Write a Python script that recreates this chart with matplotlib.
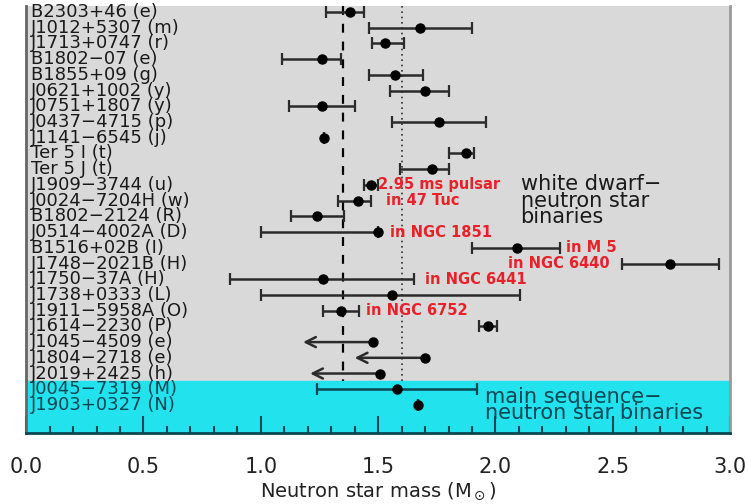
import numpy as np
import matplotlib
matplotlib.use('Agg')
import matplotlib.pyplot as plt
from matplotlib.ticker import MultipleLocator

# pulsar names, top to bottom
names = ['B2303+46 (e)', 'J1012+5307 (m)', 'J1713+0747 (r)', 'B1802-07 (e)',
         'B1855+09 (g)', 'J0621+1002 (y)', 'J0751+1807 (y)', 'J0437-4715 (p)',
         'J1141-6545 (j)', 'Ter 5 I (t)', 'Ter 5 J (t)', 'J1909-3744 (u)',
         'J0024-7204H (w)', 'B1802-2124 (R)', 'J0514-4002A (D)', 'B1516+02B (I)',
         'J1748-2021B (H)', 'J1750-37A (H)', 'J1738+0333 (L)', 'J1911-5958A (O)',
         'J1614-2230 (P)', 'J1045-4509 (e)', 'J1804-2718 (e)', 'J2019+2425 (h)',
         'J0045-7319 (M)', 'J1903+0327 (N)']

# measured masses with lower / upper bounds (white dwarf binaries)
wd_mass = [1.38, 1.68, 1.53, 1.26, 1.57, 1.70, 1.26, 1.76, 1.27, 1.875, 1.73,
           1.47, 1.415, 1.24, 1.50, 2.09, 2.745, 1.265, 1.56, 1.34, 1.97]
wd_low = [1.28, 1.46, 1.475, 1.09, 1.46, 1.55, 1.12, 1.56, 1.27, 1.80, 1.595,
          1.44, 1.33, 1.13, 1.00, 1.90, 2.54, 0.87, 1.00, 1.265, 1.93]
wd_high = [1.44, 1.90, 1.61, 1.34, 1.69, 1.80, 1.40, 1.96, 1.27, 1.91, 1.80,
           1.50, 1.47, 1.355, 1.50, 2.275, 2.955, 1.655, 2.105, 1.42, 2.005]

# upper limits (rows 22-24)
lim_mass = [1.48, 1.70, 1.51]
lim_arrow = [1.18, 1.40, 1.21]

# main sequence binaries
ms_mass = [1.58, 1.67]
ms_low = [1.24, 1.67]
ms_high = [1.92, 1.67]

# red cluster notes: (text, x, row)
notes = [('2.95 ms pulsar', 1.50, 11), ('in 47 Tuc', 1.535, 12),
         ('in NGC 1851', 1.55, 14), ('in M 5', 2.30, 15),
         ('in NGC 6440', 2.055, 16), ('in NGC 6441', 1.70, 17),
         ('in NGC 6752', 1.45, 19)]

canonical = 1.35
mean_mass = 1.6

gray_bg = '#d9d9d9'
cyan_bg = '#22e2ee'
teal = '#0b4652'
red = '#e8202a'

fig = plt.figure(figsize=(7.48, 5.04), dpi=100)
ax = fig.add_axes([0.035, 0.141, 0.941, 0.847])
ax.set_facecolor(gray_bg)

n = len(names)
rows = np.arange(n)
n_wd = len(wd_mass)
n_lim = len(lim_mass)

ax.set_xlim(0, 3.0)
ax.set_ylim(26.78, -0.38)
ax.axhspan(n_wd + n_lim - 0.5, 26.78, color=cyan_bg, zorder=0.5)

ax.vlines(canonical, -0.38, n_wd + n_lim - 0.5, colors='black',
          linestyles=(0, (4, 4)), linewidth=1.6, zorder=1)
ax.vlines(mean_mass, -0.38, n_wd + n_lim - 0.5, colors='#333333',
          linestyles=(0, (1, 2.2)), linewidth=1.2, zorder=1)

wd_y = rows[:n_wd]
m = np.array(wd_mass)
err = [m - np.array(wd_low), np.array(wd_high) - m]
ax.errorbar(m, wd_y, xerr=err, fmt='o', color='black', ecolor='#2b2b2b',
            elinewidth=1.8, capsize=4, capthick=1.6, markersize=6.5, zorder=3)

lim_y = rows[n_wd:n_wd + n_lim]
ax.plot(lim_mass, lim_y, 'o', color='black', markersize=6.5, zorder=3)
for xm, xa, yy in zip(lim_mass, lim_arrow, lim_y):
    ax.annotate('', xy=(xa, yy), xytext=(xm, yy),
                arrowprops=dict(arrowstyle='->', color='#2b2b2b', lw=1.8,
                                mutation_scale=18, shrinkA=0, shrinkB=0),
                zorder=2)

ms_y = rows[n_wd + n_lim:]
mm = np.array(ms_mass)
merr = [mm - np.array(ms_low), np.array(ms_high) - mm]
ax.errorbar(mm, ms_y, xerr=merr, fmt='o', color='black', ecolor=teal,
            elinewidth=1.8, capsize=4, capthick=1.6, markersize=6.5, zorder=3)

for i, name in enumerate(names):
    c = teal if i >= n_wd + n_lim else '#1a1a1a'
    ax.text(0.02, i, name.replace('-', '\u2212'), ha='left', va='center',
            fontsize=13, color=c, zorder=4)

for txt, xx, rr in notes:
    ax.text(xx, rr, txt, ha='left', va='center', fontsize=10.5,
            fontweight='bold', color=red, zorder=4)

ax.text(2.107, 12, 'white dwarf\u2212\nneutron star\nbinaries', ha='left',
        va='center', fontsize=15, color='#1a1a1a', linespacing=0.8, zorder=4)
ax.text(1.955, 25, 'main sequence\u2212\nneutron star binaries', ha='left',
        va='center', fontsize=15, color=teal, linespacing=0.75, zorder=4)

ax.xaxis.set_major_locator(MultipleLocator(0.5))
ax.xaxis.set_minor_locator(MultipleLocator(0.1))
ax.tick_params(axis='x', which='major', direction='in', length=12, width=1.5,
               color=teal, labelsize=15, labelcolor='#222222', pad=17)
ax.tick_params(axis='x', which='minor', direction='in', length=5, width=1.5,
               color=teal)
ax.set_yticks([])
ax.set_xticks(np.arange(0, 3.01, 0.5))
ax.set_xticklabels(['%.1f' % v for v in np.arange(0, 3.01, 0.5)])
ax.set_xlabel(r'Neutron star mass (M$_\odot$)', fontsize=14, color='#222222',
              labelpad=3)

ax.spines['top'].set_visible(False)
ax.spines['left'].set_color('#666666')
ax.spines['left'].set_linewidth(2)
ax.spines['right'].set_color('#999999')
ax.spines['right'].set_linewidth(2)
ax.spines['bottom'].set_color(teal)
ax.spines['bottom'].set_linewidth(2)

fig.savefig('out.png', dpi=100)
